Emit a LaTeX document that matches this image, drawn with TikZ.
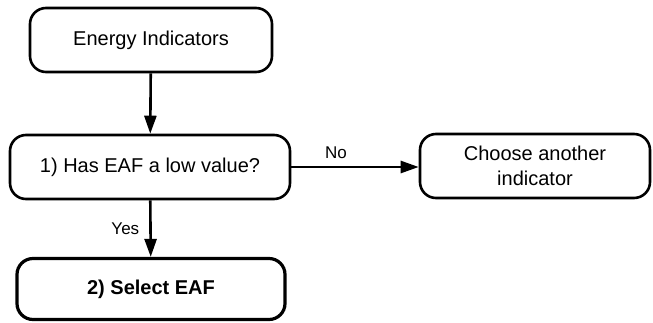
\documentclass[tikz,border=0pt]{standalone}
\usepackage{fontspec}
\setmainfont{Liberation Sans}
\usetikzlibrary{arrows.meta}
\begin{document}
\begin{tikzpicture}[x=1pt,y=-1pt,
  box/.style={draw=black,line width=2.6pt,rounded corners=16pt,align=center,
    inner sep=0pt,font=\fontsize{20}{25}\selectfont},
  flow/.style={line width=2.6pt,-{Triangle[length=18pt,width=12pt]}},
  lbl/.style={font=\fontsize{17}{19}\selectfont,inner sep=0pt}]
\useasboundingbox (0,0) rectangle (653,322);
\node[box,minimum width=242pt,minimum height=64pt] (ind) at (151,40) {Energy Indicators};
\node[box,minimum width=280pt,minimum height=64pt] (q) at (150,167) {1) Has EAF a low value?};
\node[box,minimum width=230pt,minimum height=64pt] (other) at (535,166) {Choose another\\indicator};
\node[box,line width=3.2pt,minimum width=268pt,minimum height=61pt,font=\fontsize{20}{25}\selectfont\bfseries] (sel) at (151,289) {2) Select EAF};
\draw[flow] (ind) -- (q);
\draw[flow] (q.east) -- (other.west |- q.east) node[lbl,pos=0.35,above=7pt] {No};
\draw[flow] (q) -- (sel) node[lbl,midway,left=10pt] {Yes};
\end{tikzpicture}
\end{document}
